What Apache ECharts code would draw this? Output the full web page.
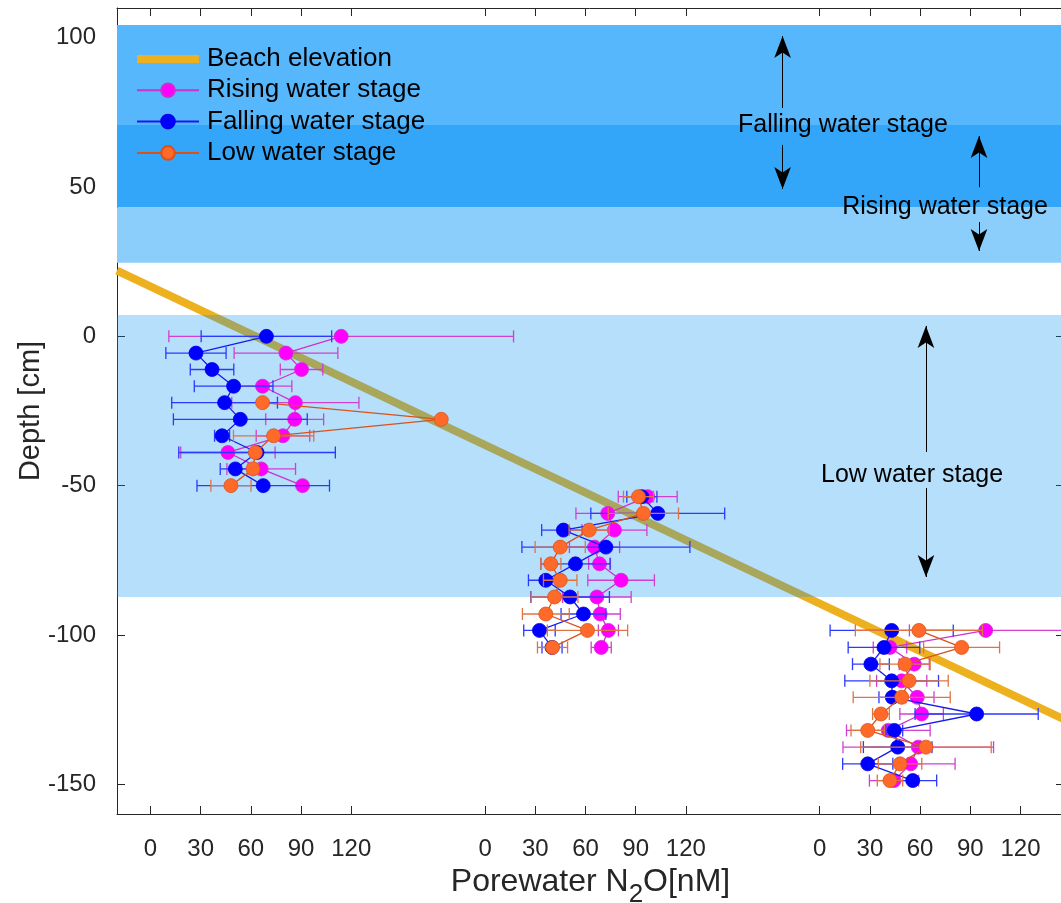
<!DOCTYPE html>
<html>
<head>
<meta charset="utf-8">
<script src="https://cdn.jsdelivr.net/npm/echarts@6.0.0/dist/echarts.min.js"></script>
<style>
  html, body { margin: 0; padding: 0; background: #fff; }
  #chart { width: 1061px; height: 903px; }
</style>
</head>
<body>
<div id="chart"></div>
<script>
// depths (cm) of the sampled rows, one array per profile
var depthA = [0, -5.6, -11.1, -16.7, -22.2, -27.8, -33.3, -38.9, -44.4, -50];
var depthB = [-53.7, -59.3, -64.9, -70.6, -76.2, -81.7, -87.3, -93.0, -98.5, -104.2];
var depthC = [-98.5, -104.2, -109.8, -115.4, -120.9, -126.5, -132.0, -137.6, -143.2, -148.8];

// porewater N2O (nM) and error half-widths
var risingA = [114, 81, 90.3, 67, 86.6, 86.2, 79.2, 46.3, 66.2, 90.9];
var risingAErr = [103, 31, 12.7, 17.5, 38, 17.3, 16, 28.2, 20.5, 1];
var risingB = [97.2, 73.3, 77.3, 65.4, 68.4, 81.3, 66.8, 68.8, 73.7, 69.4];
var risingBErr = [17.6, 19, 19.4, 15, 6.5, 19.9, 20.5, 12, 6, 6];
var risingC = [99.2, 42, 56.5, 49, 58.3, 60.9, 41, 58.9, 54.4, 44.4];
var risingCErr = [45.6, 10, 9, 15, 10, 13, 25, 45, 26.5, 14.7];

var fallingA = [69.3, 27.2, 36.8, 49.7, 44.3, 53.7, 42.8, 63.7, 50.7, 67.4];
var fallingAErr = [39, 18, 13, 23.5, 31.6, 40, 4.5, 46.8, 9, 39.6];
var fallingB = [93.7, 103.2, 46.8, 72.2, 54, 36.3, 50.8, 58.8, 32.5, 40];
var fallingBErr = [9, 40, 13, 50.2, 20.7, 10.4, 23.5, 13.4, 9.4, 6];
var fallingC = [43, 38.4, 30.6, 43, 43.4, 93.8, 44.6, 46.6, 28.7, 55.6];
var fallingCErr = [36.8, 21.4, 11, 28, 8, 36.8, 5, 20.5, 15, 14.3];

var lowA = [null, null, null, null, 67, 173.8, 73.6, 62.7, 61.3, 48.1];
var lowAErr = [0, 0, 0, 0, 0.8, 1, 24, 1, 3, 12];
var lowB = [91.7, 94.6, 62.2, 44.9, 39.3, 44.9, 41.5, 36.3, 61.2, 40.3];
var lowBErr = [9, 21, 12, 15, 6, 10, 14, 14, 24, 9];
var lowC = [59.3, 84.8, 51, 53.4, 49, 36.6, 28.7, 63.5, 48, 42];
var lowCErr = [38, 22.7, 15, 23.4, 29, 5, 10, 39, 13, 7.6];

// beach elevation line: x (shifted axis units) and depth at the two ends
var beachX = [-20, 546];
var beachY = [22.0, -128.3];

// each profile is drawn shifted along one shared x axis
var panelOffsets = [0, 200, 400];
var tickLabels = [0, 30, 60, 90, 120];
var depthTicks = [-150, -100, -50, 0, 50, 100];

var font = "'Liberation Sans', Arial, Helvetica, sans-serif";
var axisColor = '#262626';

var xTicks = [];
panelOffsets.forEach(function (off) {
    tickLabels.forEach(function (t) { xTicks.push(off + t); });
});

function points(values, depths, offset) {
    var out = [];
    values.forEach(function (v, i) {
        if (v === null) return;
        out.push([v + offset, depths[i]]);
    });
    return out;
}

function bars(values, errs, depths, offset) {
    var out = [];
    values.forEach(function (v, i) {
        if (v === null) return;
        out.push([v + offset, depths[i], errs[i]]);
    });
    return out;
}

function errorBar(params, api) {
    var x = api.value(0), y = api.value(1), e = api.value(2);
    var a = api.coord([x - e, y]);
    var b = api.coord([x + e, y]);
    var st = { stroke: api.visual('color'), lineWidth: 1.3 };
    var cap = 6;
    return {
        type: 'group',
        children: [
            { type: 'line', shape: { x1: a[0], y1: a[1], x2: b[0], y2: b[1] }, style: st },
            { type: 'line', shape: { x1: a[0], y1: a[1] - cap, x2: a[0], y2: a[1] + cap }, style: st },
            { type: 'line', shape: { x1: b[0], y1: b[1] - cap, x2: b[0], y2: b[1] + cap }, style: st }
        ]
    };
}

var depths = [depthA, depthB, depthC];
var stages = [
    { name: 'Rising water stage', vals: [risingA, risingB, risingC], errs: [risingAErr, risingBErr, risingCErr],
      fill: '#FF00FF', border: '#D22BD2', line: '#CC33CC', bar: '#D040D0' },
    { name: 'Falling water stage', vals: [fallingA, fallingB, fallingC], errs: [fallingAErr, fallingBErr, fallingCErr],
      fill: '#0000FF', border: '#0000EE', line: '#1A1AF0', bar: '#2A3AFF' },
    { name: 'Low water stage', vals: [lowA, lowB, lowC], errs: [lowAErr, lowBErr, lowCErr],
      fill: '#FF6A2A', border: '#D95319', line: '#D95319', bar: '#E07440' }
];

var series = [];

series.push({
    name: 'Beach elevation',
    type: 'line',
    data: [[beachX[0], beachY[0]], [beachX[1], beachY[1]]],
    symbol: 'none',
    lineStyle: { color: '#EDB120', width: 8 },
    itemStyle: { color: '#EDB120' },
    z: 0,
    silent: true
});

// stage bands
series.push({
    name: 'bands',
    type: 'line',
    data: [],
    z: 1,
    silent: true,
    markArea: {
        silent: true,
        z: 1,
        label: { show: false },
        data: [
            [{ yAxis: 104.3, itemStyle: { color: '#57B7FC' } }, { yAxis: 70.8 }],
            [{ yAxis: 70.8, itemStyle: { color: '#33A6FA' } }, { yAxis: 43.2 }],
            [{ yAxis: 43.2, itemStyle: { color: '#8CCEFB' } }, { yAxis: 24.7 }],
            [{ yAxis: 7.2, itemStyle: { color: 'rgba(0,145,240,0.29)' } }, { yAxis: -87.3 }]
        ]
    }
});

stages.forEach(function (s, k) {
    var errData = [];
    panelOffsets.forEach(function (off, p) {
        errData = errData.concat(bars(s.vals[p], s.errs[p], depths[p], off));
    });
    series.push({
        name: s.name + ' bars',
        type: 'custom',
        renderItem: errorBar,
        data: errData,
        encode: { x: 0, y: 1 },
        itemStyle: { color: s.bar },
        z: 2 + 2 * k,
        silent: true
    });
    panelOffsets.forEach(function (off, p) {
        series.push({
            name: s.name,
            type: 'line',
            data: points(s.vals[p], depths[p], off),
            symbol: 'circle',
            symbolSize: 14,
            showSymbol: true,
            itemStyle: { color: s.fill, borderColor: s.border, borderWidth: 0.8 },
            lineStyle: { color: s.line, width: 1.3 },
            z: 3 + 2 * k,
            silent: true
        });
    });
});

// annotations: text and the double arrows around it
var notes = [
    { text: 'Falling water stage', x: 413.9, y: 70.9, ax: 377.8, up: [76.5, 100.6], down: [64.1, 49.4] },
    { text: 'Rising water stage', x: 474.9, y: 43.2, ax: 495.2, up: [50.0, 67.1], down: [38.3, 28.6] },
    { text: 'Low water stage', x: 455.2, y: -46.5, ax: 463.5, up: [-38.7, 3.5], down: [-50.8, -80.6] }
];
var arrowLines = [];
notes.forEach(function (n) {
    arrowLines.push([{ coord: [n.ax, n.up[0]], symbol: 'none' },
                     { coord: [n.ax, n.up[1]], symbol: 'arrow', symbolSize: [12.5, 22] }]);
    arrowLines.push([{ coord: [n.ax, n.down[0]], symbol: 'none' },
                     { coord: [n.ax, n.down[1]], symbol: 'arrow', symbolSize: [12.5, 22] }]);
});
series.push({
    name: 'notes',
    type: 'line',
    data: [],
    z: 10,
    silent: true,
    markLine: {
        silent: true,
        z: 10,
        symbol: ['none', 'arrow'],
        lineStyle: { color: '#000', width: 1, type: 'solid' },
        itemStyle: { color: '#000' },
        label: { show: false },
        emphasis: { disabled: true },
        data: arrowLines
    },
    markPoint: {
        silent: true,
        z: 10,
        symbol: 'rect',
        symbolSize: 1,
        itemStyle: { color: 'rgba(0,0,0,0)' },
        label: {
            show: true, position: 'inside', color: '#000', fontSize: 25, fontFamily: font,
            formatter: function (p) { return p.name; }
        },
        data: notes.map(function (n) { return { name: n.text, coord: [n.x, n.y] }; })
    }
});

var tickStyle = { show: true, inside: true, length: 8, lineStyle: { color: axisColor, width: 1 } };
var lineStyleAxis = { show: true, onZero: false, lineStyle: { color: axisColor, width: 1 } };

var option = {
    animation: false,
    backgroundColor: '#fff',
    grid: { left: 117, right: -3, top: 8, bottom: 89, containLabel: false, outerBoundsMode: 'none' },
    legend: {
        orient: 'vertical',
        left: 131,
        top: 41,
        itemWidth: 62,
        itemHeight: 17,
        itemGap: 5.3,
        selectedMode: false,
        textStyle: { fontSize: 26, color: '#000', fontFamily: font, padding: [0, 0, 0, 3] },
        data: [
            { name: 'Beach elevation', icon: 'path://M0,0H62V8H0Z', itemStyle: { color: '#EDB120' } },
            'Rising water stage',
            'Falling water stage',
            'Low water stage'
        ]
    },
    xAxis: [{
        type: 'value',
        min: -20,
        max: 546,
        position: 'bottom',
        name: 'Porewater N{sub|2}O[nM]',
        nameLocation: 'middle',
        nameGap: 42,
        nameMoveOverlap: false,
        nameTextStyle: {
            fontSize: 32, color: axisColor, fontFamily: font,
            rich: { sub: { fontSize: 26, color: axisColor, fontFamily: font, padding: [26, 0, 0, 0] } }
        },
        axisLine: lineStyleAxis,
        axisTick: Object.assign({ customValues: xTicks }, tickStyle),
        axisLabel: {
            customValues: xTicks, fontSize: 24, color: axisColor, fontFamily: font, margin: 23,
            formatter: function (v) { return String(Math.round(v % 200)); }
        },
        splitLine: { show: false }
    }, {
        type: 'value',
        min: -20,
        max: 546,
        position: 'top',
        axisLine: lineStyleAxis,
        axisTick: Object.assign({ customValues: xTicks }, tickStyle),
        axisLabel: { show: false },
        splitLine: { show: false }
    }],
    yAxis: [{
        type: 'value',
        min: -160,
        max: 110,
        position: 'left',
        name: 'Depth [cm]',
        nameLocation: 'middle',
        nameGap: 72,
        nameMoveOverlap: false,
        nameTextStyle: { fontSize: 29, color: axisColor, fontFamily: font },
        axisLine: lineStyleAxis,
        axisTick: Object.assign({ customValues: depthTicks }, tickStyle),
        axisLabel: { customValues: depthTicks, fontSize: 24, color: axisColor, fontFamily: font, margin: 21 },
        splitLine: { show: false }
    }, {
        type: 'value',
        min: -160,
        max: 110,
        position: 'right',
        axisLine: lineStyleAxis,
        axisTick: Object.assign({ customValues: depthTicks }, tickStyle),
        axisLabel: { show: false },
        splitLine: { show: false }
    }],
    series: series
};

var chart = echarts.init(document.getElementById('chart'));
chart.setOption(option);
</script>
</body>
</html>
